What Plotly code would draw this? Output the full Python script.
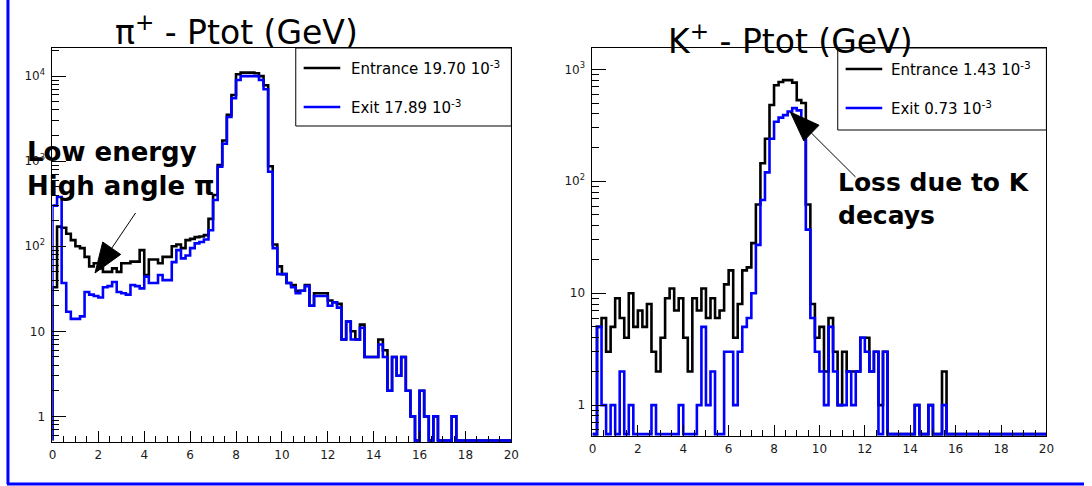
import numpy as np
import plotly.graph_objects as go

W, H = 1092, 486

# 100 bins of 0.2 GeV between 0 and 20 GeV
bin_edges = np.round(np.linspace(0.0, 20.0, 101), 6)

# pi+ total momentum, counts per bin
pi_entrance = [
    33, 170, 165, 140, 118, 100, 95, 75, 58, 63,
    55, 50, 50, 55, 50, 63, 63, 66, 66, 90,
    46, 70, 70, 63, 75, 75, 100, 105, 95, 118,
    122, 128, 130, 135, 210, 400, 900, 1750, 3500, 6000,
    10500, 11000, 11000, 11000, 10800, 10000, 7800, 870, 105, 58,
    47, 37, 35, 30, 30, 35, 20, 28, 28, 28,
    23, 22, 21, 8, 13, 10, 8, 12, 5, 5,
    5, 8, 6, 2, 5, 3, 5, 2, 1, 0,
    2, 1, 0, 1, 0, 0, 0, 1, 0, 0,
    0, 0, 0, 0, 0, 0, 0, 0, 0, 0,
]
pi_exit = [
    300, 380, 37, 17, 14, 14, 15, 29, 27, 26,
    25, 33, 34, 38, 29, 28, 27, 35, 34, 32,
    44, 37, 37, 46, 40, 40, 65, 90, 72, 78,
    95, 108, 112, 120, 154, 350, 860, 1600, 3300, 5500,
    9000, 10000, 10000, 10000, 10000, 9000, 7000, 750, 95, 47,
    47, 37, 33, 28, 30, 34, 20, 26, 26, 26,
    20, 22, 19, 8, 13, 8, 8, 11, 5, 5,
    5, 7, 5, 2, 5, 3, 5, 2, 1, 0,
    2, 1, 0, 1, 0, 0, 0, 1, 0, 0,
    0, 0, 0, 0, 0, 0, 0, 0, 0, 0,
]

# K+ total momentum, counts per bin
k_entrance = [
    0, 5, 6, 3, 5, 9, 6, 4, 10, 5,
    7, 5, 8, 3, 2, 4, 9, 11, 7, 9,
    4, 2, 9, 7, 11, 6, 9, 6, 7, 12,
    16, 4, 8, 16, 17, 28, 62, 145, 240, 480,
    720, 770, 800, 800, 760, 530, 500, 62, 8, 4,
    5, 2, 6, 3, 1, 3, 2, 2, 2, 4,
    4, 2, 3, 1, 3, 0, 0, 0, 0, 0,
    0, 1, 0, 0, 1, 0, 0, 2, 0, 0,
    0, 0, 0, 0, 0, 0, 0, 0, 0, 0,
    0, 0, 0, 0, 0, 0, 0, 0, 0, 0,
]
k_exit = [
    0, 5, 1, 0, 1, 0, 2, 0, 1, 0,
    0, 0, 0, 1, 0, 0, 0, 0, 0, 1,
    0, 0, 0, 1, 5, 1, 2, 0, 0, 3,
    3, 1, 3, 5, 6, 10, 27, 68, 120, 240,
    340, 370, 390, 420, 450, 430, 270, 37, 6, 3,
    2, 1, 5, 2, 1, 1, 2, 1, 2, 4,
    3, 2, 3, 0, 3, 0, 0, 0, 0, 0,
    0, 1, 0, 0, 1, 0, 0, 1, 0, 0,
    0, 0, 0, 0, 0, 0, 0, 0, 0, 0,
    0, 0, 0, 0, 0, 0, 0, 0, 0, 0,
]

series_names = ["Entrance", "Exit"]
pi_rates = ["19.70", "17.89"]
k_rates = ["1.43", "0.73"]
series_colors = ["#000000", "#0000ff"]

x_ticks = list(range(0, 21, 2))
y_tick_vals = [1, 10, 100, 1000, 10000]
y_tick_text = ["1", "10", "10<sup>2</sup>", "10<sup>3</sup>", "10<sup>4</sup>"]

PI_YRANGE = (0.5, 21400.0)
K_YRANGE = (0.53, 1550.0)


def px(x):
    return x / W


def py(y):
    return 1.0 - y / H


def step_xy(counts, floor):
    """Histogram outline: empty bins rest just above the axis floor."""
    c = np.maximum(np.asarray(counts, dtype=float), floor)
    x = np.concatenate([[bin_edges[0]], bin_edges, [bin_edges[-1]]])
    y = np.concatenate([[floor], c, [c[-1]], [floor]])
    return x, y


fig = go.Figure()

panels = [
    (pi_entrance, pi_exit, "x", "y", PI_YRANGE[0] * 1.04),
    (k_entrance, k_exit, "x2", "y2", K_YRANGE[0] * 1.04),
]
for ent, ext, xa, ya, floor in panels:
    for counts, name, color in zip((ent, ext), series_names, series_colors):
        hx, hy = step_xy(counts, floor)
        fig.add_trace(go.Scatter(
            x=hx, y=hy, mode="lines", name=name, xaxis=xa, yaxis=ya,
            line=dict(color=color, width=2.6, shape="hv"),
            showlegend=False, hoverinfo="skip",
        ))

tick_font = dict(family="DejaVu Sans", size=12, color="#1a1a1a")


def x_axis(domain):
    return dict(
        domain=domain, range=[0, 20], tickmode="array", tickvals=x_ticks,
        ticks="inside", ticklen=11, tickwidth=1, tickcolor="black",
        minor=dict(dtick=0.5, ticks="inside", ticklen=6, tickcolor="black"),
        showline=True, linecolor="black", linewidth=1, mirror=True,
        showgrid=False, zeroline=False, tickfont=tick_font,
        ticklabelstandoff=2, fixedrange=True,
    )


def y_axis(domain, yr, anchor):
    return dict(
        domain=domain, type="log", range=[np.log10(yr[0]), np.log10(yr[1])],
        tickmode="array", tickvals=y_tick_vals, ticktext=y_tick_text,
        ticks="inside", ticklen=14, tickwidth=1, tickcolor="black",
        minor=dict(dtick="D1", ticks="inside", ticklen=7, tickcolor="black"),
        showline=True, linecolor="black", linewidth=1, mirror=True,
        showgrid=False, zeroline=False, tickfont=tick_font,
        ticklabelstandoff=4, anchor=anchor, fixedrange=True,
    )


fig.update_layout(
    width=W, height=H, autosize=False,
    margin=dict(l=0, r=0, t=0, b=0),
    paper_bgcolor="white", plot_bgcolor="white",
    font=dict(family="DejaVu Sans", color="black"),
    xaxis=x_axis([px(49), px(513)]) | dict(anchor="y"),
    yaxis=y_axis([py(442), py(48)], PI_YRANGE, "x"),
    xaxis2=x_axis([px(595), px(1054)]) | dict(anchor="y2"),
    yaxis2=y_axis([py(436), py(48)], K_YRANGE, "x2"),
)

shapes = []
annotations = []

# outer frame of the slide panel
border = dict(type="line", xref="paper", yref="paper",
              line=dict(color="#0000ff", width=3))
shapes.append(border | dict(x0=px(4), x1=px(4), y0=py(0), y1=py(484)))
shapes.append(border | dict(x0=px(3), x1=px(1092), y0=py(484), y1=py(484)))

# titles
annotations.append(dict(
    text="π<sup>+</sup> - Ptot (GeV)", x=px(235), y=py(31),
    xanchor="center", yanchor="middle",
    font=dict(family="DejaVu Sans", size=33, color="black")))
annotations.append(dict(
    text="K<sup>+</sup> - Ptot (GeV)", x=px(795), y=py(39),
    xanchor="center", yanchor="middle",
    font=dict(family="DejaVu Sans", size=33, color="black")))

# legend boxes
legends = [
    (295, 513, 48, 126, 303, 340, 349, (68, 107), pi_rates),
    (843, 1054, 48, 130, 851, 888, 895, (69, 108), k_rates),
]
for bx0, bx1, by0, by1, lx0, lx1, tx, rows, rates in legends:
    shapes.append(dict(type="rect", xref="paper", yref="paper",
                       x0=px(bx0), x1=px(bx1), y0=py(by1), y1=py(by0),
                       line=dict(color="black", width=1), fillcolor="rgba(0,0,0,0)"))
    for yy, name, rate, color in zip(rows, series_names, rates, series_colors):
        shapes.append(dict(type="line", xref="paper", yref="paper",
                           x0=px(lx0), x1=px(lx1), y0=py(yy), y1=py(yy),
                           line=dict(color=color, width=2.6)))
        annotations.append(dict(
            text=f"{name} {rate} 10<sup>-3</sup>", x=px(tx), y=py(yy),
            xanchor="left", yanchor="middle",
            font=dict(family="DejaVu Sans", size=15, color="black")))

# callout texts
annotations.append(dict(
    text="Low energy<br>High angle π", x=px(21), y=py(169),
    xanchor="left", yanchor="middle", align="left",
    font=dict(family="DejaVu Sans", size=26, color="black", weight="bold")))
annotations.append(dict(
    text="Loss due to K<br>decays", x=px(841), y=py(199),
    xanchor="left", yanchor="middle", align="left",
    font=dict(family="DejaVu Sans", size=25, color="black", weight="bold")))


def arrow(x0, y0, x1, y1, head_len=30, head_half=11):
    """Thin shaft with a large filled head, given in page pixels."""
    dx, dy = x1 - x0, y1 - y0
    n = np.hypot(dx, dy)
    ux, uy = dx / n, dy / n
    bx, by = x1 - ux * head_len, y1 - uy * head_len
    nx, ny = -uy, ux
    shapes.append(dict(type="line", xref="paper", yref="paper",
                       x0=px(x0), y0=py(y0), x1=px(bx), y1=py(by),
                       line=dict(color="black", width=1)))
    pts = [(x1, y1), (bx + nx * head_half, by + ny * head_half),
           (bx - nx * head_half, by - ny * head_half)]
    path = "M " + " L ".join(f"{px(a):.5f},{py(b):.5f}" for a, b in pts) + " Z"
    shapes.append(dict(type="path", xref="paper", yref="paper", path=path,
                       fillcolor="black", line=dict(color="black", width=1)))


arrow(133, 213, 92, 273)
arrow(861, 177, 795, 112)

fig.update_layout(shapes=shapes, annotations=[
    a | dict(xref="paper", yref="paper", showarrow=False) for a in annotations
])

fig.write_html("out.html")
